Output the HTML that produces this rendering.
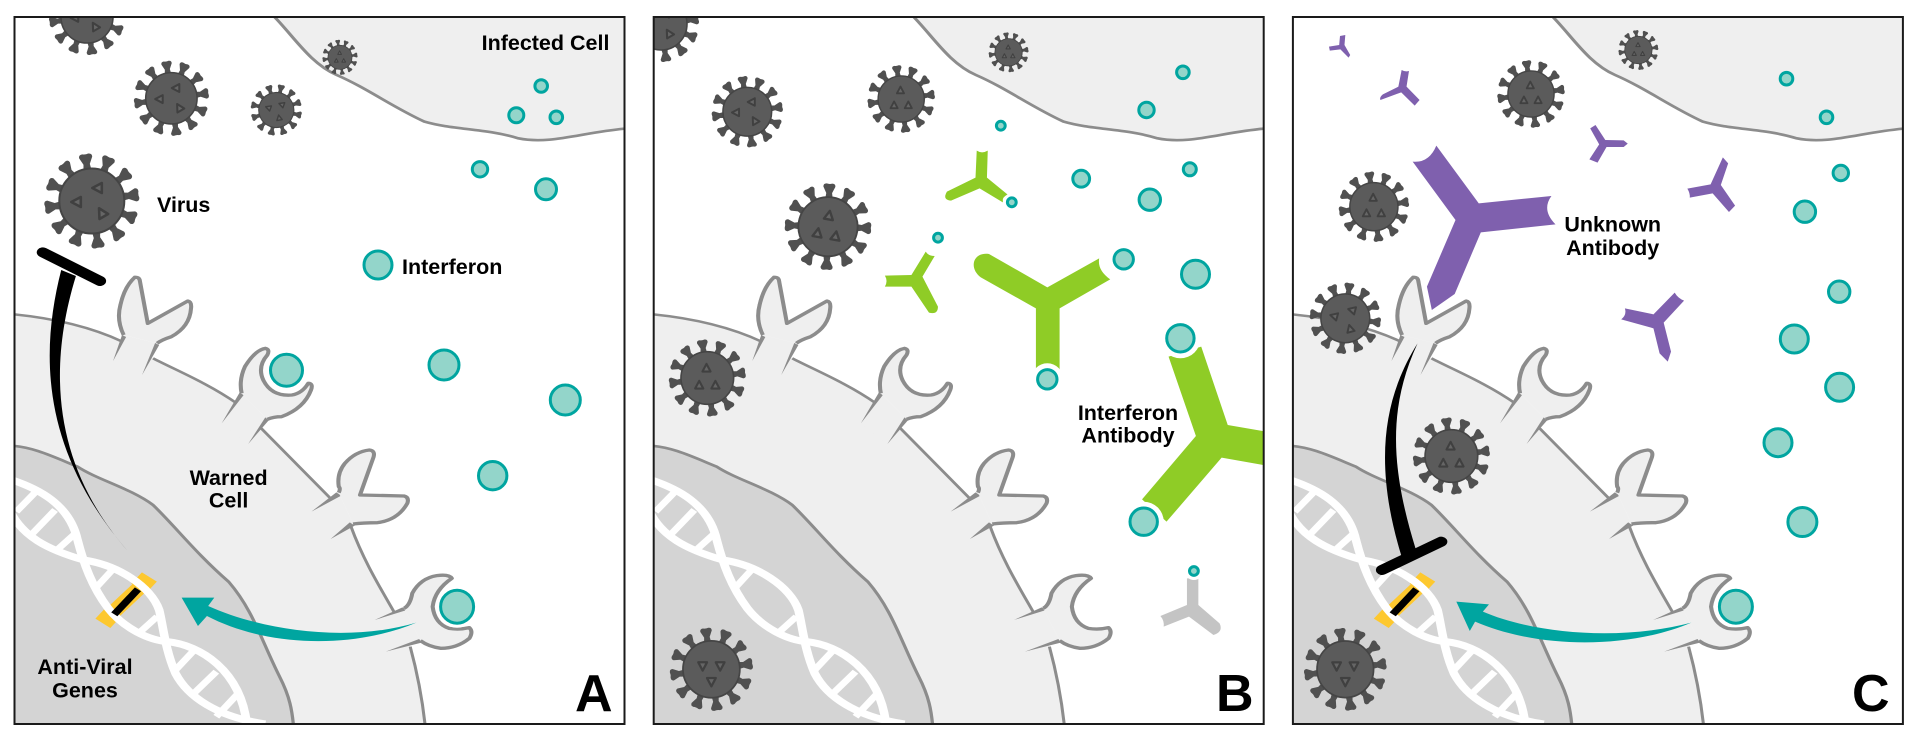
<!DOCTYPE html>
<html><head><meta charset="utf-8">
<style>
html,body{margin:0;padding:0;background:#fff;width:1920px;height:741px;overflow:hidden}
svg{display:block}
text{font-family:"Liberation Sans",sans-serif;font-weight:700;font-size:21.5px;fill:#000}
.m{text-anchor:middle}
.L{font-size:52px}
.if{fill:#93d5ca;stroke:#00a5a0;stroke-width:3}
.h{fill:#fff}
.t{fill:#666;stroke:#404040;stroke-width:2.6;stroke-linejoin:round}
</style></head><body>
<svg width="1920" height="741" viewBox="0 0 1920 741" xmlns="http://www.w3.org/2000/svg">
<defs>
<clipPath id="c1"><rect x="14.5" y="17" width="610" height="707"/></clipPath>
<clipPath id="c2"><rect x="653.7" y="17" width="610" height="707"/></clipPath>
<clipPath id="c3"><rect x="1292.9" y="17" width="610" height="707"/></clipPath>
<path id="s" d="M-4.2,-30 L-3.2,-37 L-6.6,-44 Q-6.8,-47.5 -3,-47.5 Q0,-46.5 3,-47.5 Q6.8,-47.5 6.6,-44 L3.2,-37 L4.2,-30 Z" fill="#505050"/>
<g id="vb">
<use href="#s" transform="rotate(-8)"/><use href="#s" transform="rotate(22)"/><use href="#s" transform="rotate(52)"/><use href="#s" transform="rotate(82)"/><use href="#s" transform="rotate(112)"/><use href="#s" transform="rotate(142)"/><use href="#s" transform="rotate(172)"/><use href="#s" transform="rotate(202)"/><use href="#s" transform="rotate(232)"/><use href="#s" transform="rotate(262)"/><use href="#s" transform="rotate(292)"/><use href="#s" transform="rotate(322)"/>
<circle r="32.5" fill="#5b5b5b" stroke="#454545" stroke-width="2"/>
</g>
<polygon id="tr" class="t" points="0,-5.5 5,4 -5,4"/>
<g id="v"><use href="#vb"/><use href="#tr" transform="translate(6,-13) rotate(-90)"/><use href="#tr" transform="translate(-15,1) rotate(-90)"/><use href="#tr" transform="translate(10,12) rotate(-30)"/></g>
<g id="v2"><use href="#vb"/><use href="#tr" transform="translate(-10,-4) rotate(180)"/><use href="#tr" transform="translate(10,-4) rotate(180)"/><use href="#tr" transform="translate(0,14) rotate(180)"/></g>
<g id="v3"><use href="#vb"/><use href="#tr" transform="translate(-1,-12)"/><use href="#tr" transform="translate(-10,9)"/><use href="#tr" transform="translate(10,9)"/></g>

<g id="base" transform="scale(.40816,.33333)">
<path d="M672,50 C720,110 760,190 825,225 C900,265 960,320 1040,365 C1110,390 1190,385 1270,415 C1350,435 1430,395 1540,385 L1540,40 L672,40 Z" fill="#efefef"/>
<path d="M672,50 C720,110 760,190 825,225 C900,265 960,320 1040,365 C1110,390 1190,385 1270,415 C1350,435 1430,395 1540,385" fill="none" stroke="#8c8c8c" stroke-width="8"/>
<path d="M25,942 C140,955 230,985 300,1025 L375,1075 C430,1110 510,1150 580,1210 L640,1285 L808,1493 L860,1580 C890,1680 930,1760 965,1835 L1005,1940 C1025,2030 1035,2100 1042,2180 L25,2180 Z" fill="#efefef"/>
<path d="M25,942 C140,955 230,985 300,1025 M375,1075 C430,1110 510,1150 580,1210 M640,1285 L808,1493 M860,1580 C890,1680 930,1760 965,1835 M1005,1940 C1025,2030 1035,2100 1042,2180" fill="none" stroke="#8c8c8c" stroke-width="7.5"/>
<path d="M25,1337 C80,1340 130,1370 190,1400 C240,1440 320,1465 375,1515 C430,1580 480,1660 560,1745 C620,1830 640,1920 685,2030 C710,2090 716,2130 720,2190 L25,2190 Z" fill="#d4d4d4" stroke="#8c8c8c" stroke-width="8"/>
<!-- receptor stems -->
<g fill="#efefef">
<path d="M303,1005 L385,1030 L348,1125 L277,1083 Z"/>
<path d="M592,1180 L655,1258 L608,1332 L543,1270 Z"/>
<path d="M830,1478 L865,1572 L810,1617 L763,1535 Z"/>
<path d="M990,1825 L1030,1922 L945,1955 L918,1860 Z"/>
</g>
<g fill="#8c8c8c">
<path d="M299,1005 L309,1011 L277,1083 Z M380,1029 L390,1035 L348,1125 Z"/>
<path d="M587,1178 L597,1185 L543,1270 Z M650,1252 L662,1256 L608,1332 Z"/>
<path d="M824,1477 L836,1487 L763,1535 Z M857,1567 L869,1577 L810,1617 Z"/>
<path d="M986,1822 L997,1830 L918,1860 Z M1027,1917 L1033,1928 L945,1955 Z"/>
</g>
<g fill="#efefef" stroke="#8c8c8c" stroke-width="10" stroke-linejoin="round">
<path d="M303,1005 Q285,960 295,915 Q305,860 330,832 Q342,830 343,845 L362,970 L460,903 Q470,905 468,925 Q465,980 420,1010 Q395,1020 385,1030"/>
<path d="M592,1180 Q585,1140 600,1100 Q625,1050 650,1045 Q662,1048 655,1065 Q630,1100 645,1140 Q665,1190 715,1185 Q740,1180 755,1150 Q768,1150 762,1170 Q745,1225 690,1250 Q670,1250 655,1258"/>
<path d="M830,1478 Q835,1465 830,1460 Q825,1420 845,1390 Q870,1355 905,1350 Q920,1352 915,1372 L882,1485 L990,1488 Q1003,1492 998,1510 Q975,1560 925,1568 Q890,1568 865,1572"/>
<path d="M990,1825 Q1005,1815 1010,1780 Q1030,1735 1070,1727 Q1100,1722 1107,1735 Q1065,1770 1060,1820 Q1065,1870 1100,1885 Q1125,1890 1150,1883 Q1160,1895 1150,1915 Q1120,1945 1080,1945 Q1050,1940 1030,1922"/>
</g>
</g>

<g id="gy" transform="scale(.40816,.33333)" stroke="#fdc82f" fill="none">
<line x1="366" y1="1731" x2="340" y2="1765" stroke-width="46"/>
<line x1="252" y1="1870" x2="278" y2="1836" stroke-width="46"/>
<line x1="340" y1="1765" x2="278" y2="1836" stroke-width="40"/>
</g>
<g id="gb" transform="scale(.40816,.33333)">
<line x1="338" y1="1768" x2="280" y2="1843" stroke="#000" stroke-width="19"/>
</g>
<g id="dna" transform="scale(.40816,.33333)" fill="none" stroke="#fff">
<path stroke-width="18" d="M88,1475 L40,1535 M135,1530 L80,1600 M185,1600 L135,1655 M275,1710 L230,1770 M385,1850 L335,1905 M480,1945 L430,2010 M530,2015 L475,2080 M580,2085 L530,2150"/>
<path stroke-width="21" d="M30,1440 C90,1465 170,1510 190,1620 C205,1690 225,1760 265,1825 C300,1880 360,1920 410,1925 C490,1935 590,2010 605,2175"/>
<path stroke-width="21" d="M20,1520 C50,1610 120,1650 205,1680 C290,1695 370,1760 390,1830 C400,1880 405,1950 430,2020 C460,2090 530,2150 650,2172"/>
</g>
</defs>

<!-- PANEL A -->
<g clip-path="url(#c1)">
<use href="#base"/>
<use href="#gy"/><use href="#dna"/><use href="#gb"/>
<g fill="#00a5a0" transform="scale(.40816,.33333)">
<path d="M445,1793 L525,1793 L510,1818 C640,1890 850,1930 1020,1868 C870,1945 660,1945 507,1848 L485,1878 Z"/>
</g>
<use href="#v" transform="translate(87,17) scale(.8)"/>
<use href="#v" transform="translate(171.4,98.3) scale(.79)"/>
<use href="#v" transform="translate(276.3,110) rotate(20) scale(.54)"/>
<use href="#v" transform="translate(91.8,201)"/>
<use href="#v3" transform="translate(340,57.3) scale(.37)"/>
<g class="h"><circle cx="286.5" cy="370.3" r="20"/><circle cx="457.1" cy="606.7" r="21"/></g>
<g class="if">
<circle cx="541.2" cy="86" r="6.3"/><circle cx="516.3" cy="115.3" r="7.5"/><circle cx="556.3" cy="117.3" r="6.3"/><circle cx="480" cy="169.3" r="7.7"/><circle cx="546" cy="189.3" r="10.5"/><circle cx="378" cy="265" r="14"/><circle cx="286.5" cy="370.3" r="16"/><circle cx="444" cy="365" r="15"/><circle cx="565.3" cy="400" r="15"/><circle cx="492.7" cy="475.7" r="14.2"/><circle cx="457.1" cy="606.7" r="16.5"/>
</g>
<g transform="scale(.40816,.33333)">
<path d="M150,810 C100,1050 95,1350 318,1660 C150,1430 105,1150 186,828 Z" fill="#000"/>
<line x1="105" y1="757" x2="245" y2="843" stroke="#000" stroke-width="30" stroke-linecap="round"/>
</g>
</g>
<rect x="14.5" y="17" width="610" height="707" fill="none" stroke="#1a1a1a" stroke-width="2"/>
<text x="481.6" y="50">Infected Cell</text>
<text x="157" y="212">Virus</text>
<text x="402" y="274">Interferon</text>
<text x="228.6" y="485" class="m">Warned</text>
<text x="228.6" y="507.7" class="m">Cell</text>
<text x="85" y="674" class="m">Anti-Viral</text>
<text x="85" y="697.7" class="m">Genes</text>
<text x="575" y="711" class="L">A</text>

<!-- PANEL B -->
<g clip-path="url(#c2)">
<use href="#base" transform="translate(639.2,0)"/>
<use href="#dna" transform="translate(639.2,0)"/>
<use href="#v" transform="translate(661,24) scale(.8)"/>
<use href="#v" transform="translate(747.3,111.7) scale(.75)"/>
<use href="#v3" transform="translate(901.2,99) scale(.71)"/>
<use href="#v3" transform="translate(828,226.7) rotate(10) scale(.91)"/>
<use href="#v3" transform="translate(1008.6,52.3) scale(.42)"/>
<use href="#v3" transform="translate(707.3,378) scale(.81)"/>
<use href="#v2" transform="translate(711.4,669.3) scale(.875)"/>
<g transform="translate(640,0) scale(.40816,.33333)">
<g fill="#8fcc26">
<path d="M855,762 L998,862 L1125,775 Q1120,810 1152,838 L1028,925 L1028,1110 L970,1110 L970,925 L835,832 C805,805 815,755 855,762 Z"/>
<path d="M825,452 Q838,462 852,452 L850,533 L902,585 Q885,590 890,608 L832,565 L762,602 Q740,600 752,575 L822,533 Z"/>
<path d="M700,755 Q706,768 722,768 L692,830 L730,920 Q730,945 708,938 L665,860 L600,860 Q608,843 600,827 L665,825 Z"/>
<path d="M1295,1070 L1375,1040 L1440,1275 L1540,1296 L1540,1398 L1425,1373 L1290,1565 L1230,1498 L1362,1308 Z"/>
</g>
<path d="M1340,1735 L1368,1735 L1368,1815 L1420,1870 Q1430,1895 1405,1905 L1345,1850 L1283,1880 Q1285,1862 1275,1848 L1340,1815 Z" fill="#c4c4c4"/>
</g>
<g class="h"><circle cx="1047.3" cy="379.3" r="16"/><circle cx="1123.7" cy="259.3" r="16"/><circle cx="1180.4" cy="338.3" r="20"/><circle cx="1143.7" cy="521.7" r="20"/><circle cx="1193.9" cy="571" r="9"/><circle cx="1011.8" cy="202.3" r="9"/><circle cx="938" cy="237.7" r="9"/></g>
<g class="if">
<circle cx="1182.9" cy="72.3" r="6.3"/><circle cx="1146.5" cy="110" r="7.7"/><circle cx="1000.8" cy="125.7" r="4.4"/><circle cx="1011.8" cy="202.3" r="4.4"/><circle cx="938" cy="237.7" r="4.4"/><circle cx="1081.2" cy="178.7" r="8.4"/><circle cx="1189.8" cy="169.3" r="6.5"/><circle cx="1149.8" cy="199.7" r="10.7"/><circle cx="1123.7" cy="259.3" r="9.7"/><circle cx="1195.5" cy="274.3" r="14"/><circle cx="1180.4" cy="338.3" r="13.7"/><circle cx="1047.3" cy="379.3" r="9.7"/><circle cx="1143.7" cy="521.7" r="13.7"/><circle cx="1193.9" cy="571" r="4.4"/>
</g>
</g>
<rect x="653.7" y="17" width="610" height="707" fill="none" stroke="#1a1a1a" stroke-width="2"/>
<text x="1128" y="420" class="m">Interferon</text>
<text x="1128" y="442.7" class="m">Antibody</text>
<text x="1216" y="711" class="L">B</text>

<!-- PANEL C -->
<g clip-path="url(#c3)">
<use href="#base" transform="translate(1278.4,0)"/>
<use href="#gy" transform="translate(1278.4,0)"/><use href="#dna" transform="translate(1278.4,0)"/><use href="#gb" transform="translate(1278.4,0)"/>
<g transform="translate(1280,0) scale(.40816,.33333)">
<path d="M432,1805 L512,1813 L497,1835 C620,1900 830,1925 1008,1868 C860,1945 640,1950 478,1865 L465,1893 Z" fill="#00a5a0"/>
</g>
<use href="#v3" transform="translate(1531,94) scale(.71)"/>
<use href="#v3" transform="translate(1638.4,50) scale(.42)"/>
<use href="#v3" transform="translate(1373.9,206.7) scale(.74)"/>
<use href="#v" transform="translate(1345.3,318.3) rotate(15) scale(.75)"/>
<use href="#v3" transform="translate(1451.4,456) scale(.81)"/>
<use href="#v2" transform="translate(1345.3,669.3) scale(.87)"/>
<g transform="translate(1280,0) scale(.40816,.33333)" fill="#7f60ae">
<path d="M325,485 Q365,490 383,437 L487,610 L665,588 Q640,630 675,673 L492,697 L428,882 L372,930 L360,860 L430,660 Z"/>
<path d="M147,108 L160,105 L158,135 L172,165 L168,173 L148,148 L122,152 L120,140 L145,135 Z"/>
<path d="M298,210 Q306,216 316,213 L310,260 L342,300 L330,317 L297,277 L246,300 Q243,292 252,283 L290,260 Z"/>
<path d="M760,385 L773,375 L797,420 L842,421 L852,431 L842,441 L800,441 L778,488 L758,478 L782,433 Z"/>
<path d="M1085,472 L1098,490 L1080,555 L1115,617 L1100,636 L1060,580 L1004,593 Q1005,580 998,566 L1055,553 Z"/>
<path d="M967,878 Q975,895 990,902 L940,968 L958,1055 L950,1085 L930,1060 L915,985 L836,958 Q850,945 845,925 L915,943 Z"/>
</g>
<circle class="h" cx="1735.9" cy="606.7" r="20"/>
<g class="if">
<circle cx="1786.5" cy="78.7" r="6.3"/><circle cx="1826.5" cy="117.3" r="6.3"/><circle cx="1840.8" cy="173" r="7.7"/><circle cx="1804.9" cy="211.7" r="10.7"/><circle cx="1839.2" cy="291.7" r="10.7"/><circle cx="1794.3" cy="339" r="14"/><circle cx="1839.6" cy="387.3" r="14"/><circle cx="1778" cy="442.7" r="14"/><circle cx="1802.4" cy="522" r="14.5"/><circle cx="1735.9" cy="606.7" r="16.5"/>
</g>
<g transform="translate(1280,0) scale(.40816,.33333)">
<path d="M337,1030 C250,1200 230,1400 298,1670 L332,1645 C270,1400 265,1220 337,1030 Z" fill="#000"/>
<line x1="250" y1="1710" x2="395" y2="1625" stroke="#000" stroke-width="30" stroke-linecap="round"/>
</g>
</g>
<rect x="1292.9" y="17" width="610" height="707" fill="none" stroke="#1a1a1a" stroke-width="2"/>
<text x="1612.7" y="231.7" class="m">Unknown</text>
<text x="1612.7" y="255" class="m">Antibody</text>
<text x="1852" y="711" class="L">C</text>
</svg>
</body></html>
